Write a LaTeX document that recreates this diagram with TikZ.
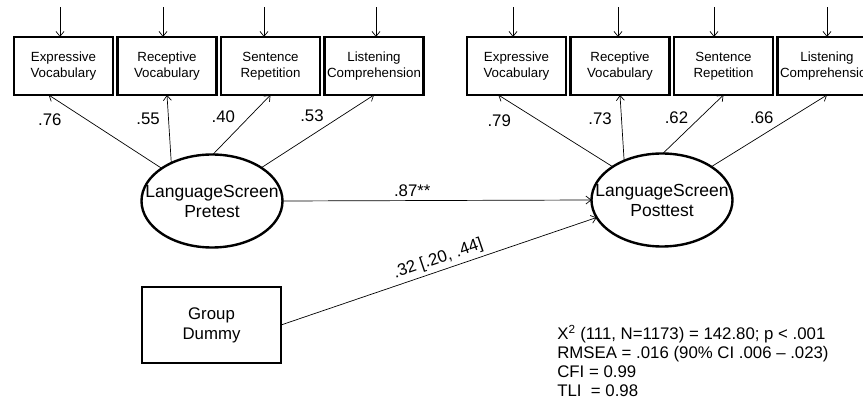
\documentclass[tikz,border=0pt]{standalone}
\usepackage{fontspec}
\setmainfont{Liberation Sans}
\usetikzlibrary{positioning,arrows.meta,shapes.geometric}

\begin{document}
\begin{tikzpicture}[x=1pt,y=-1pt,>={Straight Barb[length=5pt,width=8pt]},line width=0.7pt,
	ind/.style={minimum width=99pt,minimum height=58pt,inner sep=1pt,outer sep=0pt,draw=black,line width=2.4pt,align=center,font=\fontsize{13.3}{16}\selectfont},
	lat/.style={ellipse,minimum width=141pt,minimum height=93pt,inner xsep=-22pt,inner ysep=0pt,outer sep=0pt,draw=black,line width=2.4pt,align=center,font=\fontsize{17.5}{20}\selectfont},
	coef/.style={font=\fontsize{16.8}{19}\selectfont}]
	\useasboundingbox (0,0) rectangle (863,403);
	% indicators, pretest
	\node [ind] at (63.5,66) (EV1) {Expressive\\Vocabulary};
	\node [ind,right=4.5pt of EV1] (RV1) {Receptive\\Vocabulary};
	\node [ind,right=4.5pt of RV1] (SR1) {Sentence\\Repetition};
	\node [ind,right=4.5pt of SR1] (LC1) {Listening\\Comprehension};
	% indicators, posttest
	\node [ind] at (516.5,66) (EV2) {Expressive\\Vocabulary};
	\node [ind,right=4.5pt of EV2] (RV2) {Receptive\\Vocabulary};
	\node [ind,right=4.5pt of RV2] (SR2) {Sentence\\Repetition};
	\node [ind,right=4.5pt of SR2] (LC2) {Listening\\Comprehension};
	% latent variables
	\node [lat] at (212,201) (Pre) {LanguageScreen\\Pretest};
	\node [lat] at (662,200) (Post) {LanguageScreen\\Posttest};
	\node [ind,minimum width=139pt,minimum height=76pt,font=\fontsize{16.8}{20}\selectfont] at (211.5,325) (Grp) {Group\\Dummy};
	\node [coef,anchor=north west,align=left,inner sep=0pt] at (557,325) (Fit) {X\textsuperscript{2} (111, N=1173) = 142.80; p < .001\\RMSEA = .016 (90\% CI .006 \textendash{} .023)\\CFI = 0.99\\TLI \ = 0.98};
	% error terms
	\foreach \b/\dx in {EV1/-3.5,RV1/-4,SR1/-6.5,LC1/2,EV2/-3.5,RV2/-2,SR2/-9.5,LC2/0}
		\draw [<-] ([xshift=\dx pt]\b.north) -- +(0,-30);
	% loadings
	\draw [->] (Pre.147) -- node [coef,pos=.66,left=22pt] {.76} (EV1.-117);
	\draw [->] (Pre.137) -- node [coef,pos=.65,left=5pt] {.55} (RV1.south);
	\draw [->] (Pre.89) -- node [coef,pos=.64,left=11pt] {.40} (SR1.south);
	\draw [->] (Pre.34) -- node [coef,pos=.71,left=14pt] {.53} (LC1.south);
	\draw [->] (Post.146) -- node [coef,pos=.64,left=25pt] {.79} (EV2.-122);
	\draw [->] (Post.134) -- node [coef,pos=.64,left=6pt] {.73} (RV2.south);
	\draw [->] (Post.89) -- node [coef,pos=.61,left=8pt] {.62} (SR2.south);
	\draw [->] (Post.34) -- node [coef,pos=.69,left=14pt] {.66} (LC2.south);
	% paths
	\draw [->] (Pre.east) -- node [coef,pos=.42,above] {.87**} (Post.west);
	\draw [->] (Grp.east) -- node [coef,pos=.51,sloped,above] {.32 [.20, .44]} (Post.195);
\end{tikzpicture}
\end{document}
